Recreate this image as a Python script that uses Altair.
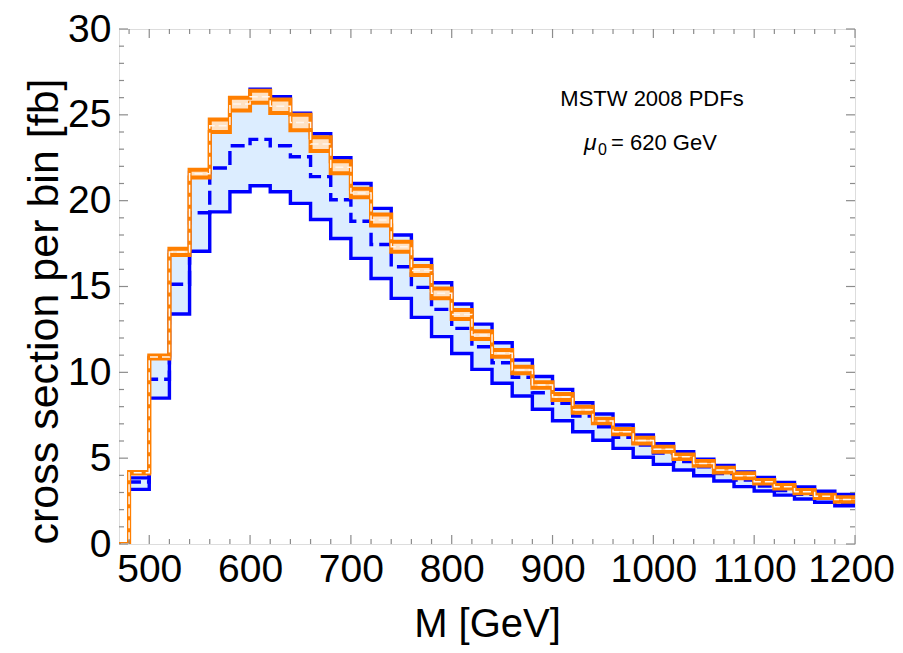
import altair as alt
import pandas as pd

# bin left edges (GeV), 20 GeV bins; final entry closes the last bin at 1200
bin_edges = [460, 480, 500, 520, 540, 560, 580, 600, 620, 640, 660, 680, 700, 720, 740,
             760, 780, 800, 820, 840, 860, 880, 900, 920, 940, 960, 980, 1000, 1020,
             1040, 1060, 1080, 1100, 1120, 1140, 1160, 1180, 1200]

blue_lower = [0, 3.18, 8.5, 13.4, 17.05, 19.35, 20.52, 20.87, 20.52, 19.84, 18.9, 17.8,
              16.64, 15.47, 14.31, 13.2, 12.08, 11.1, 10.17, 9.36, 8.62, 7.85, 7.18, 6.54,
              6.04, 5.57, 5.05, 4.64, 4.31, 3.98, 3.67, 3.34, 3.09, 2.85, 2.62, 2.43, 2.23, 2.23]
blue_central = [0, 3.61, 9.6, 15.13, 19.3, 21.9, 23.2, 23.57, 23.2, 22.56, 21.4, 20.05,
                18.8, 17.45, 16.15, 14.95, 13.67, 12.56, 11.49, 10.56, 9.71, 8.81, 8.19, 7.45,
                6.83, 6.21, 5.77, 5.3, 4.8, 4.5, 4.1, 3.73, 3.38, 3.12, 2.89, 2.66, 2.41, 2.41]
blue_upper = [0, 3.85, 10.88, 17.06, 21.65, 24.5, 25.95, 26.5, 26.05, 25.1, 23.9, 22.5,
              21.0, 19.55, 18.0, 16.58, 15.22, 13.98, 12.81, 11.72, 10.72, 9.76, 9.01, 8.23,
              7.57, 6.93, 6.35, 5.84, 5.38, 4.94, 4.57, 4.19, 3.87, 3.59, 3.32, 3.07, 2.88, 2.88]
orange_lower = [0, 4.1, 10.8, 16.83, 21.35, 24.0, 25.25, 25.7, 25.1, 24.1, 22.9, 21.6,
                20.2, 18.55, 17.03, 15.67, 14.31, 13.1, 11.94, 10.91, 9.94, 9.1, 8.39, 7.65,
                7.03, 6.39, 5.86, 5.38, 4.95, 4.56, 4.17, 3.83, 3.53, 3.24, 2.95, 2.68, 2.46, 2.46]
orange_upper = [0, 4.2, 10.98, 17.2, 21.8, 24.73, 26.0, 26.4, 25.9, 25.0, 23.7, 22.3,
                20.7, 19.2, 17.6, 16.19, 14.89, 13.63, 12.4, 11.3, 10.33, 9.42, 8.74, 8.0,
                7.3, 6.7, 6.19, 5.67, 5.22, 4.83, 4.44, 4.12, 3.73, 3.44, 3.15, 2.87, 2.72, 2.72]

x_major = [500, 600, 700, 800, 900, 1000, 1100, 1200]
x_minor = [v for v in range(480, 1200, 20) if v % 100 != 0]
y_major = [0, 5, 10, 15, 20, 25, 30]
y_minor = [v for v in range(0, 31) if v % 5 != 0]

df = pd.DataFrame({
    "x": bin_edges, "lo": blue_lower, "mid": blue_central, "hi": blue_upper,
    "olo": orange_lower, "ohi": orange_upper,
})
df["omid"] = (df["olo"] + df["ohi"]) / 2

W, H = 736, 515
BLUE = "#0000ff"
ORANGE = "#ff7f00"
FONT = "Liberation Sans"

xscale = alt.Scale(domain=[470, 1200], nice=False, zero=False)
yscale = alt.Scale(domain=[0, 30], nice=False)

xaxis = alt.Axis(values=x_major, format="d", labelFontSize=39, labelFont=FONT,
                 labelColor="black", ticks=False, domain=False, grid=False,
                 labelPadding=6, labelFlush=False, labelOverlap=False,
                 labelOffset={"condition": {"test": "datum.value == 1200", "value": -4}, "value": 0},
                 title="M [GeV]", titleFont=FONT, titleFontSize=40,
                 titleFontWeight="normal", titleColor="black",
                 titleY=92, titleBaseline="alphabetic")
yaxis = alt.Axis(values=y_major, format="d", labelFontSize=39, labelFont=FONT,
                 labelColor="black", ticks=False, domain=False, grid=False,
                 labelPadding=8, labelFlush=False, labelOverlap=False,
                 title="cross section per bin [fb]", titleFont=FONT, titleFontSize=43,
                 titleFontWeight="normal", titleColor="black",
                 titleAngle=-90, titleX=-62, titleY=282, titleAlign="center",
                 titleBaseline="alphabetic")

base = alt.Chart(df)
X = alt.X("x:Q", scale=xscale, axis=xaxis)

blue_band = base.mark_area(interpolate="step-after", color="#dcedff", clip=True).encode(
    x=X, y=alt.Y("lo:Q", scale=yscale, axis=yaxis), y2="hi:Q")
blue_lo = base.mark_line(interpolate="step-after", color=BLUE, strokeWidth=3.4, clip=True).encode(
    x="x:Q", y="lo:Q")
blue_hi = base.mark_line(interpolate="step-after", color=BLUE, strokeWidth=3.4, clip=True).encode(
    x="x:Q", y="hi:Q")
blue_mid = base.mark_line(interpolate="step-after", color=BLUE, strokeWidth=3.4,
                          strokeDash=[14, 6], clip=True).encode(x="x:Q", y="mid:Q")
orange_band = base.mark_area(interpolate="step-after", color="#ffe2c4", clip=True).encode(
    x="x:Q", y="olo:Q", y2="ohi:Q")
orange_lo = base.mark_line(interpolate="step-after", color=ORANGE, strokeWidth=4, clip=True).encode(
    x="x:Q", y="olo:Q")
orange_hi = base.mark_line(interpolate="step-after", color=ORANGE, strokeWidth=4, clip=True).encode(
    x="x:Q", y="ohi:Q")
orange_mid = base.mark_line(interpolate="step-after", color="#fff6ee", strokeWidth=1.5,
                            strokeDash=[8, 4], clip=True).encode(x="x:Q", y="omid:Q")

# inward frame ticks
txmaj = pd.DataFrame({"t": x_major})
txmin = pd.DataFrame({"t": x_minor})
tymaj = pd.DataFrame({"t": y_major})
tymin = pd.DataFrame({"t": y_minor})
TC = "#8c8c8c"

def xticks(d, L):
    b = alt.Chart(d).mark_rule(color=TC, strokeWidth=1.2).encode(
        x="t:Q", y=alt.value(H), y2=alt.value(H - L))
    t = alt.Chart(d).mark_rule(color=TC, strokeWidth=1.2).encode(
        x="t:Q", y=alt.value(0), y2=alt.value(L))
    return b + t

def yticks(d, L):
    l = alt.Chart(d).mark_rule(color=TC, strokeWidth=1.2).encode(
        y="t:Q", x=alt.value(0), x2=alt.value(L))
    r = alt.Chart(d).mark_rule(color=TC, strokeWidth=1.2).encode(
        y="t:Q", x=alt.value(W), x2=alt.value(W - L))
    return l + r

ticks = xticks(txmaj, 9) + xticks(txmin, 5) + yticks(tymaj, 9) + yticks(tymin, 5)

ann1 = alt.Chart(pd.DataFrame({"s": ["MSTW 2008 PDFs"]})).mark_text(
    font=FONT, fontSize=22, align="center", baseline="alphabetic", color="black").encode(
    text="s:N", x=alt.value(533), y=alt.value(77))
ann_mu = alt.Chart(pd.DataFrame({"s": ["μ"]})).mark_text(
    font=FONT, fontSize=23, fontStyle="italic", align="left", baseline="alphabetic",
    color="black").encode(text="s:N", x=alt.value(465), y=alt.value(121))
ann_sub = alt.Chart(pd.DataFrame({"s": ["0"]})).mark_text(
    font=FONT, fontSize=16, align="left", baseline="alphabetic", color="black").encode(
    text="s:N", x=alt.value(479), y=alt.value(126))
ann_rest = alt.Chart(pd.DataFrame({"s": ["= 620 GeV"]})).mark_text(
    font=FONT, fontSize=22, align="left", baseline="alphabetic", color="black").encode(
    text="s:N", x=alt.value(492), y=alt.value(121))

chart = alt.layer(
    blue_band, blue_lo, blue_hi, blue_mid, orange_band, orange_lo, orange_hi, orange_mid,
    ticks, ann1, ann_mu, ann_sub, ann_rest
).properties(
    width=W, height=H,
    autosize=alt.AutoSizeParams(type="none"),
    padding={"left": 111, "top": 21, "right": 40, "bottom": 101},
).configure_view(stroke="#8c8c8c", strokeWidth=1.3).configure(background="white")

chart.save("out.html", embed_options={"renderer": "svg", "actions": False})
